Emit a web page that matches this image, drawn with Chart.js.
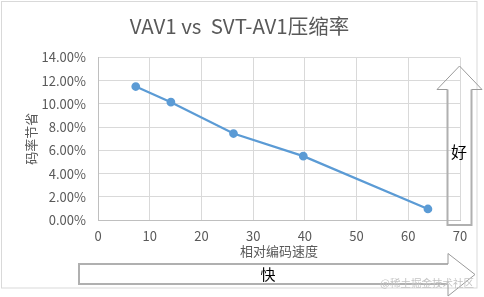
<!DOCTYPE html>
<html>
<head>
<meta charset="utf-8">
<script src="https://cdn.jsdelivr.net/npm/chart.js@4"></script>
<style>
  html, body { margin: 0; padding: 0; background: #fff; }
  #wrap { width: 484px; height: 297px; }
</style>
</head>
<body>
<div id="wrap"><canvas id="chart" width="484" height="297"></canvas></div>
<script>
// relative encoding speed vs bitrate saving (%)
const speed = [7.3, 14.1, 26.2, 39.7, 63.8]
const saving = [11.5, 10.15, 7.45, 5.5, 0.95]
const speedTicks = [0, 10, 20, 30, 40, 50, 60, 70]
const savingTicks = [0, 2, 4, 6, 8, 10, 12, 14]
const chartTitle = 'VAV1 vs  SVT-AV1压缩率'

const FONT = '"Noto Sans CJK SC", "Open Sans", sans-serif'
const GREY = '#595959'

// title, frame, the two outline arrows and the watermark
const decor = {
  id: 'decor',
  afterDraw(chart) {
    const c = chart.ctx
    c.save()
    c.strokeStyle = '#d9d9d9'
    c.lineWidth = 1
    c.strokeRect(1.5, 1.5, 475.5, 286.5)

    c.fillStyle = GREY
    c.textAlign = 'center'
    c.textBaseline = 'middle'
    c.font = '20.5px ' + FONT
    c.fillText(chartTitle, 239.5, 26)

    // horizontal arrow (faster)
    c.lineWidth = 2
    c.strokeStyle = '#b0b0b0'
    c.beginPath()
    c.moveTo(448, 264); c.lineTo(79, 264); c.lineTo(79, 284); c.lineTo(448, 284)
    c.stroke()
    c.lineWidth = 1
    c.strokeStyle = '#9a9a9a'
    c.beginPath()
    c.moveTo(448, 264); c.lineTo(448, 253.5); c.lineTo(475, 274.5); c.lineTo(448, 296); c.lineTo(448, 284)
    c.stroke()

    // vertical arrow (better)
    c.lineWidth = 2
    c.strokeStyle = '#b0b0b0'
    c.beginPath()
    c.moveTo(447.5, 89.5); c.lineTo(447.5, 225); c.lineTo(471.5, 225); c.lineTo(471.5, 89.5)
    c.stroke()
    c.lineWidth = 1
    c.strokeStyle = '#9a9a9a'
    c.beginPath()
    c.moveTo(447.5, 89.5); c.lineTo(437, 89.5); c.lineTo(459.5, 66); c.lineTo(482, 89.5); c.lineTo(471.5, 89.5)
    c.stroke()

    c.fillStyle = '#000'
    c.font = '15px ' + FONT
    c.fillText('快', 268, 274)
    c.font = '16px ' + FONT
    c.fillText('好', 459, 152)

    c.fillStyle = '#c4c4c4'
    c.font = '10.5px ' + FONT
    c.textAlign = 'right'
    c.fillText('@稀土掘金技术社区', 474, 283)
    c.restore()
  }
}

new Chart(document.getElementById('chart'), {
  type: 'scatter',
  data: {
    datasets: [{
      data: speed.map((s, i) => ({ x: s, y: saving[i] })),
      showLine: true,
      borderColor: '#5b9bd5',
      backgroundColor: '#5b9bd5',
      borderWidth: 2.25,
      pointRadius: 3.25,
      pointHoverRadius: 3.25,
      tension: 0
    }]
  },
  options: {
    responsive: false,
    animation: false,
    devicePixelRatio: 1,
    layout: { padding: { left: 0, right: 24, top: 57.5, bottom: 37 } },
    plugins: {
      legend: { display: false },
      tooltip: { enabled: false },
      title: { display: false }
    },
    scales: {
      x: {
        type: 'linear',
        min: 0, max: 70,
        afterBuildTicks: ax => { ax.ticks = speedTicks.map(v => ({ value: v })) },
        afterFit: ax => { ax.height = 40 },
        ticks: { color: GREY, font: { family: FONT, size: 13 }, padding: 8 },
        grid: { color: '#d9d9d9', drawTicks: false },
        border: { color: '#bfbfbf' },
        title: {
          display: true, text: '相对编码速度', color: GREY,
          font: { family: FONT, size: 13 }, padding: { top: 0, bottom: 1 }
        }
      },
      y: {
        min: 0, max: 14,
        afterBuildTicks: ax => { ax.ticks = savingTicks.map(v => ({ value: v })) },
        afterFit: ax => { ax.width = 98 },
        ticks: {
          color: GREY, font: { family: FONT, size: 13 }, padding: 12,
          callback: v => v.toFixed(2) + '%'
        },
        grid: { color: '#d9d9d9', drawTicks: false },
        border: { color: '#bfbfbf' },
        title: {
          display: true, text: '码率节省', color: GREY,
          font: { family: FONT, size: 13 }, padding: { top: 23, bottom: 0 }
        }
      }
    }
  },
  plugins: [decor]
})
</script>
</body>
</html>
